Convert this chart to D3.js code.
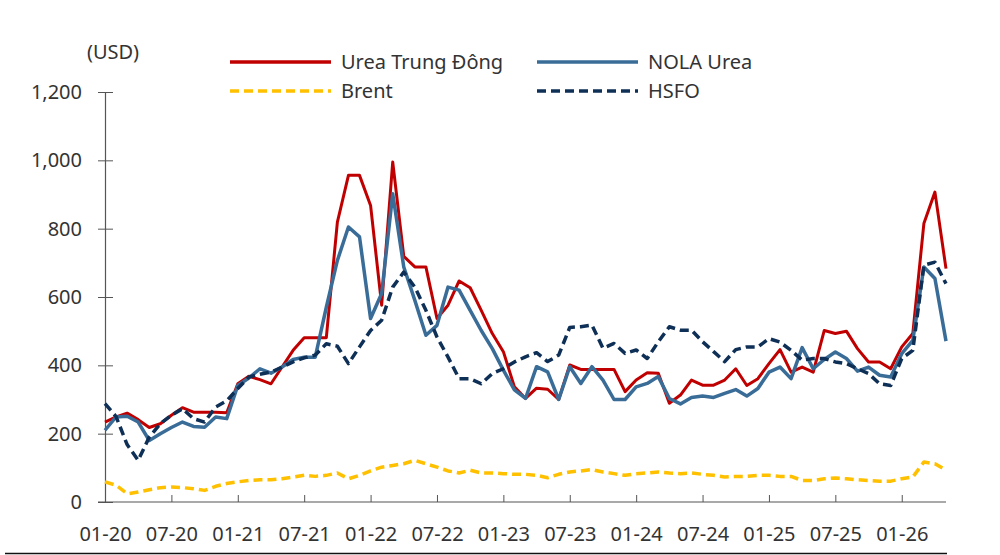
<!DOCTYPE html>
<html>
<head>
<meta charset="utf-8">
<script src="https://cdn.jsdelivr.net/npm/d3@7"></script>
<style>
  body { margin: 0; background: #fff; }
  svg text { font-family: "Noto Sans", "Open Sans", sans-serif; fill: #333; }
</style>
</head>
<body>
<div id="chart-area"></div>
<script>
// monthly, 01-2020 .. 05-2026
var months = [];
for (var m = 0; m < 77; m++) {
  var yy = 20 + Math.floor(m / 12), mm = (m % 12) + 1;
  months.push((mm < 10 ? "0" + mm : "" + mm) + "-" + yy);
}

var ureaME = [234, 249, 260, 241, 218, 229, 254, 276, 263, 263, 263, 261, 346, 368, 358, 346, 395, 444, 481, 481,
  481, 819, 956, 956, 868, 576, 995, 719, 688, 688, 537, 576, 647, 627, 561, 493, 440, 337, 303,
  333, 330, 300, 401, 388, 388, 388, 388, 323, 357, 378, 377, 289, 313, 357, 342, 342, 357, 390,
  341, 361, 405, 446, 380, 395, 380, 502, 493, 500, 449, 410, 410, 390, 454, 493, 815, 907, 683];

var nolaUrea = [210, 249, 251, 234, 180, 200, 218, 234, 221, 219, 249, 244, 341, 363, 390, 377, 395, 417, 424, 424,
  570, 707, 805, 776, 537, 610, 902, 688, 590, 488, 517, 629, 620, 561, 502, 449, 386, 328, 303,
  396, 381, 300, 396, 347, 396, 357, 300, 300, 337, 347, 367, 303, 287, 306, 310, 306, 318, 329,
  310, 332, 380, 395, 361, 452, 390, 417, 439, 420, 383, 395, 371, 366, 434, 473, 688, 654, 471];

var brent = [59, 49, 24, 29, 36, 42, 44, 42, 39, 34, 46, 54, 59, 63, 65, 65, 68, 73, 78, 75,
  78, 85, 68, 78, 91, 102, 107, 112, 122, 112, 102, 91, 85, 93, 85, 85, 83, 81, 81,
  78, 71, 81, 88, 91, 95, 88, 83, 78, 83, 85, 88, 85, 83, 85, 81, 78, 73, 75,
  75, 78, 78, 75, 75, 63, 63, 68, 70, 68, 65, 63, 61, 61, 68, 73, 117, 112, 93];

var hsfo = [288, 250, 168, 122, 190, 229, 254, 273, 244, 234, 278, 296, 332, 366, 374, 380, 395, 410, 422, 430,
  463, 456, 405, 454, 502, 532, 629, 673, 629, 561, 483, 424, 361, 361, 346, 376, 390, 410, 425,
  437, 411, 430, 511, 513, 518, 450, 464, 435, 445, 420, 469, 513, 503, 503, 469, 440, 411, 446,
  454, 454, 478, 468, 444, 415, 420, 420, 410, 405, 390, 376, 346, 341, 420, 444, 693, 702, 639];

var yTicks = [0, 200, 400, 600, 800, 1000, 1200];

var series = [
  { name: "Brent", values: brent, color: "#FFC000", width: 3.5, dash: "9,5" },
  { name: "Urea Trung Đông", values: ureaME, color: "#C00000", width: 3, dash: null },
  { name: "NOLA Urea", values: nolaUrea, color: "#3A6C98", width: 3.5, dash: null },
  { name: "HSFO", values: hsfo, color: "#0E2F56", width: 3.5, dash: "9,5" }
];

var width = 1000, height = 555;

var svg = d3.select("#chart-area").append("svg")
  .attr("width", width)
  .attr("height", height);

var x = d3.scaleLinear()
  .domain([0, months.length - 1])
  .range([105, 946]);

var y = d3.scaleLinear()
  .domain([0, 1200])
  .range([502, 92]);

// y axis
var yAxisGroup = svg.append("g")
  .attr("transform", "translate(105,0)")
  .call(d3.axisLeft(y).tickValues(yTicks).tickFormat(d3.format(",")).tickSize(7).tickSizeOuter(0).tickPadding(16));

yAxisGroup.selectAll(".tick").append("line")
  .attr("x1", 0).attr("x2", 8)
  .attr("stroke", "currentColor");

// x axis
var xAxisGroup = svg.append("g")
  .attr("transform", "translate(0,502)")
  .call(d3.axisBottom(x)
    .tickValues(d3.range(0, months.length, 6))
    .tickFormat(i => months[i])
    .tickSize(-7).tickSizeOuter(0).tickPadding(25));

xAxisGroup.select(".domain").attr("d", "M98,0H946");

[yAxisGroup, xAxisGroup].forEach(function(g) {
  g.attr("color", "#555");
  g.selectAll("text").style("font-size", "20px").style("fill", "#333");
  g.select(".domain").attr("stroke-width", 1.2);
});

// lines
var line = d3.line()
  .x((d, i) => x(i))
  .y(d => y(d));

svg.selectAll(".series")
  .data(series)
  .enter().append("path")
  .attr("class", "series")
  .attr("d", d => line(d.values))
  .attr("fill", "none")
  .attr("stroke", d => d.color)
  .attr("stroke-width", d => d.width)
  .attr("stroke-dasharray", d => d.dash)
  .attr("stroke-linejoin", "round");

// unit label
svg.append("text")
  .attr("x", 113)
  .attr("y", 52)
  .attr("dy", "0.35em")
  .attr("text-anchor", "middle")
  .style("font-size", "20px")
  .text("(USD)");

// legend
var legendPos = {
  "Urea Trung Đông": [230, 62],
  "NOLA Urea": [537, 62],
  "Brent": [230, 91],
  "HSFO": [537, 91]
};

var legend = svg.selectAll(".legend")
  .data(series)
  .enter().append("g")
  .attr("class", "legend")
  .attr("transform", d => "translate(" + legendPos[d.name][0] + "," + legendPos[d.name][1] + ")");

legend.append("line")
  .attr("x1", 0).attr("x2", 101)
  .attr("stroke", d => d.color)
  .attr("stroke-width", 3.5)
  .attr("stroke-dasharray", d => d.dash);

legend.append("text")
  .attr("x", 111)
  .attr("dy", "0.35em")
  .style("font-size", "20px")
  .text(d => d.name);

// bottom rule
svg.append("line")
  .attr("x1", 5).attr("x2", 947)
  .attr("y1", 553.5).attr("y2", 553.5)
  .attr("stroke", "#111")
  .attr("stroke-width", 1.5);
</script>
</body>
</html>
